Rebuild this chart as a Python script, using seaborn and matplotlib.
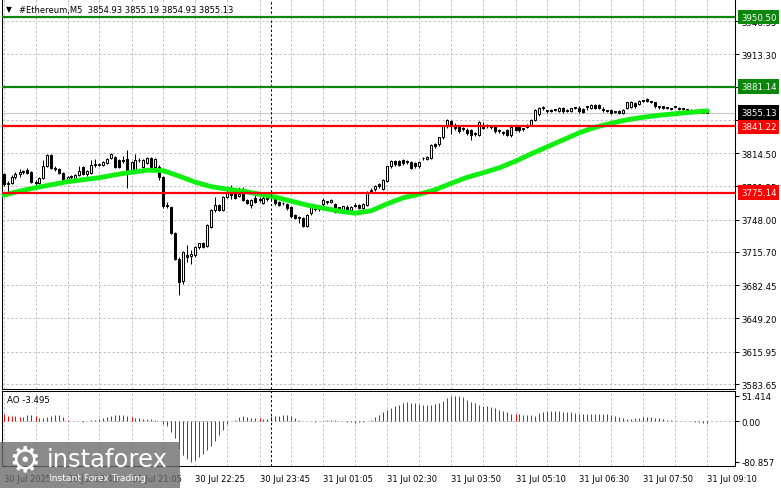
import matplotlib

matplotlib.use("Agg")
import matplotlib.pyplot as plt
import matplotlib.transforms as mtransforms
from matplotlib.patches import Rectangle
import numpy as np
import seaborn as sns


W, H = 781, 489

# M5 candles, one per bar (bar 0 = 30 Jul 18:25)
OPEN = [
    3793.5, 3784, 3785, 3791, 3794, 3796, 3798, 3796, 3786, 3785,
    3790, 3802, 3813, 3800, 3799, 3795, 3786, 3791, 3790, 3793,
    3801, 3794, 3795, 3803, 3803, 3803, 3805, 3810, 3811, 3808,
    3807, 3809, 3796, 3798, 3807.5, 3801, 3805, 3810, 3801, 3801,
    3791, 3763, 3761, 3735, 3709, 3687, 3713, 3712, 3713, 3721,
    3724.5, 3722, 3741, 3758, 3763, 3758, 3771, 3774, 3775, 3772,
    3774.5, 3768, 3763, 3770, 3768, 3765, 3769.5, 3770, 3770, 3766,
    3764.5, 3763.5, 3761, 3753, 3750, 3749.5, 3742, 3754.5, 3759.5, 3759,
    3763.5, 3766, 3766, 3763.5, 3760, 3756.3, 3761, 3758, 3762, 3763,
    3760, 3763, 3777, 3778.5, 3783.5, 3778.5, 3787, 3801.5, 3807, 3806.5,
    3808, 3806, 3806, 3804.5, 3801.5, 3809.5, 3809, 3810, 3823.5, 3823.5,
    3830.3, 3841.3, 3847, 3843, 3841.3, 3839, 3838, 3838, 3834, 3833,
    3843, 3842, 3841, 3841.3, 3837, 3835, 3838, 3833, 3840.5, 3841,
    3839, 3841, 3843, 3848, 3853.6, 3860, 3857, 3858, 3858, 3857,
    3859.6, 3857, 3857, 3860, 3859.6, 3859, 3861, 3859.6, 3863, 3863,
    3858, 3857, 3858, 3856, 3857, 3854.6, 3859.6, 3861, 3864.6, 3863.6,
    3867, 3869, 3866, 3865.6, 3861, 3861.3, 3860, 3859, 3861, 3860,
    3859, 3858, 3858, 3857, 3856, 3855.5, 3854.93,
]
HIGH = [
    3795, 3787, 3793, 3796, 3799, 3798, 3800, 3797, 3788, 3791,
    3808, 3814, 3814, 3802, 3800, 3796, 3792, 3793, 3794, 3802,
    3802, 3798, 3808, 3809, 3805, 3807, 3810, 3815, 3812, 3809,
    3812, 3818, 3807, 3814, 3810, 3809, 3811, 3811, 3810, 3803,
    3792, 3766, 3762, 3736, 3711, 3717, 3723, 3718, 3722, 3725,
    3726, 3744, 3759, 3771, 3764, 3772, 3779, 3783, 3777, 3781,
    3781, 3769, 3769, 3776, 3771, 3772, 3772, 3773, 3771, 3767,
    3766, 3765, 3762, 3754, 3752, 3751, 3754, 3763, 3762, 3761,
    3770, 3767, 3769, 3765, 3761, 3762, 3763, 3762, 3765, 3764,
    3765, 3777, 3780, 3783, 3785, 3789, 3802, 3808, 3808, 3808,
    3809, 3808, 3807, 3806, 3807, 3811, 3812, 3824, 3825, 3831,
    3842, 3849, 3848, 3845, 3843, 3841, 3840, 3839, 3836, 3847,
    3846, 3844, 3843, 3842, 3839, 3837, 3839, 3842, 3843, 3842,
    3840, 3844, 3849, 3859, 3861, 3862, 3858, 3859, 3859, 3861,
    3861, 3859, 3860, 3861, 3862, 3860, 3862, 3864, 3864, 3864,
    3861, 3858, 3859, 3857, 3858, 3859, 3866, 3867, 3866, 3868,
    3868, 3870, 3867, 3866, 3862, 3862, 3861, 3860, 3862, 3861,
    3860, 3859, 3859, 3858, 3857, 3856.5, 3855.19,
]
LOW = [
    3782, 3776, 3784, 3789, 3791, 3794, 3794, 3785, 3782, 3784,
    3789, 3801, 3799, 3797, 3794, 3785, 3785, 3789, 3789, 3792,
    3793, 3792, 3794, 3801, 3802, 3802, 3804, 3809, 3800, 3800,
    3805, 3780, 3795, 3797, 3806, 3800, 3804, 3800, 3800, 3788,
    3760, 3760, 3734, 3708, 3673, 3684, 3706, 3704, 3711, 3719,
    3720, 3721, 3740, 3756, 3757, 3757, 3770, 3769, 3769, 3771,
    3767, 3764, 3759.5, 3765, 3766, 3764, 3767, 3767, 3763, 3762,
    3763, 3758, 3750, 3749, 3744.5, 3741, 3741, 3753, 3757, 3757,
    3762, 3764, 3765, 3755, 3758, 3755, 3757, 3757, 3761, 3759,
    3759, 3762, 3776, 3777, 3780, 3778, 3786, 3800, 3802, 3802,
    3803, 3804, 3799, 3800, 3800, 3808, 3808, 3809, 3820, 3822,
    3829, 3840, 3833.6, 3838, 3835, 3837, 3833, 3828, 3832, 3832,
    3839, 3840, 3839, 3835, 3835, 3833, 3832, 3831, 3837, 3836,
    3837, 3840, 3842, 3847, 3852, 3858, 3855, 3856, 3857, 3856,
    3855, 3856, 3856, 3859, 3855, 3855, 3858, 3859, 3859, 3859,
    3856, 3856, 3854, 3855, 3854, 3854, 3859, 3860, 3860, 3863,
    3866, 3866, 3865, 3860, 3859, 3859, 3859, 3858, 3860, 3858,
    3858, 3857, 3856, 3855.5, 3855, 3854.9, 3854.93,
]
CLOSE = [
    3784, 3785, 3791, 3794, 3796, 3797, 3795, 3786, 3785, 3790,
    3802, 3813, 3800, 3799, 3795, 3786, 3791, 3792, 3793, 3797,
    3794, 3797, 3803, 3804, 3803.5, 3806, 3809, 3814, 3801, 3801,
    3807.5, 3796, 3806, 3808, 3808, 3808, 3809.5, 3801, 3809, 3791,
    3762, 3761.5, 3735, 3709, 3686, 3716, 3711, 3714, 3721, 3724.5,
    3721, 3743, 3758, 3763, 3758, 3771, 3774.5, 3773, 3770, 3773.5,
    3768, 3765, 3768, 3766, 3769, 3769.5, 3769, 3769.5, 3764.5, 3763,
    3764.5, 3759.5, 3751.5, 3750, 3750.5, 3741.5, 3753, 3761.5, 3758.5, 3759.5,
    3768, 3766, 3768, 3756, 3760.5, 3761.5, 3758, 3761, 3763, 3760,
    3764, 3776, 3778, 3782, 3781.5, 3788, 3801.5, 3807, 3803.5, 3803,
    3804.5, 3806.5, 3800, 3801.5, 3805.5, 3809.5, 3810.5, 3823, 3821.5, 3830.3,
    3841.3, 3848, 3841.3, 3840, 3836.3, 3839.5, 3834.6, 3833, 3834.5, 3846,
    3840, 3842.5, 3841, 3836.3, 3837.5, 3835.5, 3833, 3841, 3837.5, 3838,
    3839.2, 3843, 3848, 3858, 3859.6, 3860.2, 3857.5, 3856.6, 3858.2, 3860,
    3856.3, 3857.2, 3859.6, 3860.3, 3856.3, 3856, 3861.2, 3863, 3859.6, 3860,
    3858, 3857.3, 3854.6, 3856.3, 3854.6, 3858, 3865.6, 3866, 3861.3, 3867,
    3867.3, 3866.6, 3866.2, 3861.3, 3861.2, 3859.6, 3860, 3859.2, 3861.2, 3859,
    3859.2, 3858.2, 3857, 3856, 3855.5, 3854.9, 3855.13,
]

# moving average at every 4th bar
MA_BARS = [
    0, 4, 8, 12, 16, 20, 24, 28, 32, 36, 40, 44, 48, 52, 56, 60,
    64, 68, 72, 76, 80, 84, 88, 92, 96, 100, 104, 108, 112, 116, 120,
    124, 128, 132, 136, 140, 144, 148, 152, 156, 160, 164, 168, 172, 176,
]
MA_VALUES = [
    3772.5, 3776.5, 3780, 3783, 3786, 3788, 3790, 3793, 3795.5, 3797.5,
    3797, 3791.5, 3785.5, 3781, 3778.5, 3776.5, 3773.5, 3770.5, 3766.5,
    3762.5, 3759.5, 3756.5, 3754.5, 3757, 3764, 3770, 3773.5, 3778,
    3784.5, 3790.5, 3795, 3800, 3806.5, 3814, 3821, 3828, 3835, 3840.5,
    3844.5, 3848, 3850.5, 3852.5, 3854, 3855.5, 3856.8,
]

# Awesome Oscillator histogram
AO_VALUES = [
    14.7, 11.3, 10.2, 9.8, 8.7, 8.4, 12.5, 12.9, 10.0, 7.3,
    6.0, 8.7, 11.3, 12.6, 13.0, 8.7, 3.3, 1.3, 0.5, -0.3,
    -0.6, 1.3, 2.0, 3.3, 4.7, 6.0, 8.7, 11.3, 12.0, 12.7,
    13.3, 11.3, 8.7, 6.0, 5.8, 5.5, 4.7, 5.4, 3.3, 1.3,
    -5.3, -10.0, -22.0, -33.0, -55.0, -68.7, -76.7, -80.857, -78.7, -72.0,
    -65.3, -58.7, -48.7, -38.7, -27.3, -16.7, -5.3, 0.5, 3.3, 8.0,
    10.0, 8.0, 7.3, 7.0, 6.5, 5.0, 4.5, 10.0, 11.3, 11.5,
    11.8, 12.0, 10.0, 6.0, 3.3, 1.5, 0.8, 0.3, -0.5, 0.2,
    1.0, 2.5, 3.2, 2.0, 1.5, 1.0, -0.5, -1.8, -2.5, -2.0,
    -1.2, 0.5, 3.3, 8.0, 13.0, 18.0, 22.7, 26.0, 30.0, 32.7,
    36.7, 39.3, 36.9, 36.5, 34.7, 32.7, 32.5, 32.3, 34.7, 36.7,
    41.3, 46.7, 50.0, 51.414, 51.0, 48.0, 43.3, 39.3, 36.7, 32.7,
    31.3, 30.0, 28.0, 26.0, 23.3, 20.0, 18.0, 14.7, 14.5, 14.0,
    13.3, 13.0, 13.5, 11.3, 16.0, 18.0, 20.7, 21.0, 20.5, 20.0,
    18.7, 18.0, 17.8, 16.7, 15.3, 15.1, 14.9, 14.6, 14.5, 14.2,
    14.0, 13.8, 13.5, 10.0, 8.7, 6.0, 4.7, 5.0, 6.0, 6.2,
    8.0, 9.3, 9.5, 7.3, 6.0, 4.7, 3.3, 2.0, 1.2, 0.8,
    0.4, 0.1, -0.2, -0.6, -1.5, -2.6, -3.495,
]

PRICE_TICKS = [3583.65, 3615.95, 3649.20, 3682.45, 3715.70, 3748.00,
               3781.25, 3814.50, 3847.75, 3881.00, 3913.30, 3946.55]
AO_TICKS = [51.414, 0.0, -80.857]
AO_TICK_LABELS = ["51.414", "0.00", "-80.857"]

TIME_TICK_BARS = [0, 16, 32, 48, 64, 80, 96, 112, 128, 144, 160, 176]
TIME_LABELS = ["30 Jul 2025", "30 Jul 19:45", "30 Jul 21:05", "30 Jul 22:25",
               "30 Jul 23:45", "31 Jul 01:05", "31 Jul 02:30", "31 Jul 03:50",
               "31 Jul 05:10", "31 Jul 06:30", "31 Jul 07:50", "31 Jul 09:10"]
DAY_SEPARATOR_BAR = 67

LEVEL_PRICES = [3950.50, 3881.14, 3841.22, 3775.14]
LEVEL_KINDS = ["target", "target", "support", "support"]
LAST_PRICE = 3855.13
HEADER_OHLC = [3854.93, 3855.19, 3854.93, 3855.13]
AO_LAST = -3.495


def fx(px):
    return px / W


def fy(py):
    return 1 - py / H


sns.set_theme(
    style="white",
    rc={
        "axes.edgecolor": "black",
        "axes.linewidth": 0.75,
        "xtick.color": "black",
        "ytick.color": "black",
        "text.color": "black",
    },
)
plt.rcParams["font.family"] = ["DejaVu Sans"]

fig = plt.figure(figsize=(W / 100, H / 100), dpi=100)
fig.patch.set_facecolor("white")

ax = fig.add_axes([fx(2), fy(390), fx(733), 390 / H])
ax2 = fig.add_axes([fx(2), fy(467), fx(733), 75 / H])

x = np.arange(len(CLOSE))
o = np.array(OPEN)
c = np.array(CLOSE)
up = c >= o

grid_kw = dict(color="#c0c0c0", linestyle=(0, (2.2, 2.2)), linewidth=0.72)
grid_bars = list(range(0, 177, 8))
one_px = 72 / 100

# --- price panel ---
ax.axhline(LAST_PRICE, color="#c8c8c8", lw=0.8, zorder=1)
ax.vlines(x, LOW, HIGH, color="black", lw=one_px, zorder=3)
body = np.where(np.abs(c - o) < 0.4, 0.4, np.abs(c - o))
bottom = np.minimum(o, c)
ax.bar(x[up], body[up], bottom=bottom[up], width=0.5, facecolor="white",
       edgecolor="black", linewidth=0.75, zorder=4)
ax.bar(x[~up], body[~up], bottom=bottom[~up], width=0.5, facecolor="black",
       edgecolor="black", linewidth=0.75, zorder=4)

sns.lineplot(x=MA_BARS, y=MA_VALUES, ax=ax, color="#10f010", linewidth=3.5,
             zorder=5, legend=False)

level_colors = {"target": "#0a860a", "support": "#ff0000"}
trans = mtransforms.blended_transform_factory(ax.transAxes, ax.transData)
box_x = (741 - 2) / 733
for price, kind in zip(LEVEL_PRICES, LEVEL_KINDS):
    col = level_colors[kind]
    ax.axhline(price, color=col, lw=1.6, zorder=7)
    ax.text(box_x, price, f"{price:.2f}", transform=trans, ha="left", va="center",
            fontsize=6.2, color="white", clip_on=False, zorder=10,
            bbox=dict(boxstyle="square,pad=0.3", fc=col, ec="none"))
ax.text(box_x, LAST_PRICE, f"{LAST_PRICE:.2f}", transform=trans, ha="left",
        va="center", fontsize=6.2, color="white", clip_on=False, zorder=10,
        bbox=dict(boxstyle="square,pad=0.3", fc="black", ec="none"))

ax.axvline(DAY_SEPARATOR_BAR, color="black", lw=0.75, linestyle=(0, (2.2, 2.2)), zorder=6)

ax.set_xlim(-0.375, 182.875)
ax.set_ylim(3578.7, 3968.7)
ax.set_xticks(grid_bars)
ax.tick_params(axis="x", length=0, labelbottom=False)
ax.yaxis.tick_right()
ax.set_yticks(PRICE_TICKS)
ax.set_yticklabels([f"{p:.2f}" for p in PRICE_TICKS])
ax.tick_params(axis="y", length=3, width=0.75, pad=1.5, labelsize=6.2, direction="out")
ax.grid(True, **grid_kw)
ax.set_axisbelow(True)
ax.set_xlabel("")
ax.set_ylabel("")
ax.spines["top"].set_visible(False)
for s in ["left", "right", "bottom"]:
    ax.spines[s].set_visible(True)
    ax.spines[s].set_color("black")

# --- AO panel ---
ao = np.array(AO_VALUES)
ao_colors = ["#ff0000"] + ["#008000" if ao[i] > ao[i - 1] else "#ff0000"
                           for i in range(1, len(ao))]
ax2.axhline(0, color="#c0c0c0", lw=0.72, linestyle=(0, (2.2, 2.2)), zorder=1)
ax2.vlines(x, 0, ao, colors=ao_colors, lw=one_px, zorder=3)
ax2.axvline(DAY_SEPARATOR_BAR, color="black", lw=0.75, linestyle=(0, (2.2, 2.2)), zorder=4)
ax2.set_xlim(-0.375, 182.875)
ax2.set_ylim(-89.9, 61.0)
ax2.set_xticks(TIME_TICK_BARS)
ax2.set_xticklabels(TIME_LABELS)
ax2.set_xticks(grid_bars, minor=True)
ax2.tick_params(axis="x", which="major", length=3, width=0.75, pad=2.5,
                labelsize=6.0, direction="out")
ax2.tick_params(axis="x", which="minor", length=0)
for lbl in ax2.get_xticklabels():
    lbl.set_ha("left")
ax2.yaxis.tick_right()
ax2.set_yticks(AO_TICKS)
ax2.set_yticklabels(AO_TICK_LABELS)
ax2.tick_params(axis="y", length=3, width=0.75, pad=1.5, labelsize=6.2, direction="out")
ax2.grid(True, which="both", axis="x", **grid_kw)
ax2.set_axisbelow(True)
for s in ["left", "right", "bottom", "top"]:
    ax2.spines[s].set_visible(True)
    ax2.spines[s].set_color("black")
ax2.text(fx(7), fy(401), f"AO {AO_LAST:.3f}", transform=fig.transFigure,
         fontsize=6.2, ha="left", va="center")

# header
fig.text(fx(6), fy(10), "\u25bc", fontsize=5.5, ha="left", va="center")
fig.text(fx(19), fy(10), "#Ethereum,M5  " + " ".join(f"{v:.2f}" for v in HEADER_OHLC),
         fontsize=6.0, ha="left", va="center")

# watermark
fig.patches.append(Rectangle((0, 0), fx(180), 46 / H, transform=fig.transFigure,
                             facecolor="#6a6a6a", alpha=0.78, edgecolor="none", zorder=20))
fig.text(fx(25), fy(461), "\u2699", fontsize=26, color="white", ha="center",
         va="center", zorder=21)
fig.text(fx(47), fy(460), "instaforex", fontsize=17.5, color="white", ha="left",
         va="center", zorder=21)
fig.text(fx(49), fy(479), "Instant Forex Trading", fontsize=6.6, color="white",
         ha="left", va="center", zorder=21)

fig.savefig("out.png", dpi=100, facecolor="white")
